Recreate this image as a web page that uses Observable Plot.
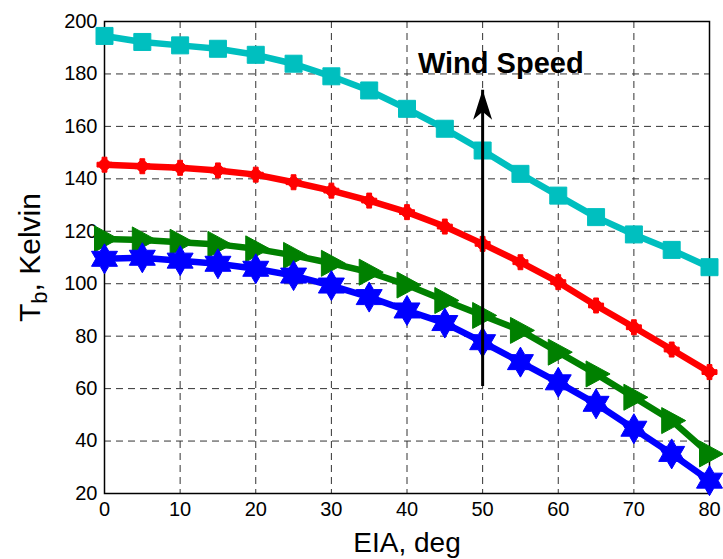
<!DOCTYPE html>
<html><head><meta charset="utf-8">
<script src="https://cdn.jsdelivr.net/npm/d3@7"></script>
<script src="https://cdn.jsdelivr.net/npm/@observablehq/plot@0.6"></script>
<style>
body{margin:0;background:#fff}
#chart svg{font-family:"Liberation Sans",Arial,Helvetica,sans-serif;background:#fff}
</style>
</head><body><div id="chart"></div>
<script>
// ---- data ----
const eia = [0,5,10,15,20,25,30,35,40,45,50,55,60,65,70,75,80];
const tbCyan  = [194.5,192.2,190.9,189.6,187.3,183.9,179.1,173.7,166.7,159.1,150.8,141.9,133.6,125.4,118.8,112.9,106.3];
const tbRed   = [145.4,144.8,144.2,143.2,141.6,138.7,135.5,131.7,127.3,121.8,115.2,108.2,100.6,91.7,83.4,74.9,66.3];
const tbGreen = [117.1,116.7,115.8,115.0,113.3,110.8,107.8,104.4,99.5,93.6,87.9,82.2,73.9,65.6,56.7,47.8,35.1];
const tbBlue  = [109.5,109.9,108.8,107.6,105.7,103.1,99.3,94.9,89.8,85.0,77.7,70.1,62.4,54.2,44.7,35.1,24.9];
const xTicks = [0,10,20,30,40,50,60,70,80];
const yTicks = [20,40,60,80,100,120,140,160,180,200];
const arrowX = [50];
const arrowFrom = [61];
const arrowTo = [174];
const annotation = ["Wind Speed"];
const annotationX = [52.4];
const annotationY = [184];
const xLabel = "EIA, deg";
const yLabel = "T_b, Kelvin";

// ---- marker symbols ----
const squareSym = {draw(c){const h=8.5;c.moveTo(-h,-h);c.lineTo(h,-h);c.lineTo(h,h);c.lineTo(-h,h);c.closePath();}};
const plusDotSym = {draw(c){
  c.moveTo(5.5,0);c.arc(0,0,5.5,0,2*Math.PI);c.closePath();
  const a=7.5,w=2.4;
  c.moveTo(-w,-a);c.lineTo(w,-a);c.lineTo(w,-w);c.lineTo(a,-w);c.lineTo(a,w);c.lineTo(w,w);c.lineTo(w,a);c.lineTo(-w,a);c.lineTo(-w,w);c.lineTo(-a,w);c.lineTo(-a,-w);c.lineTo(-w,-w);c.closePath();
}};
const triRightSym = {draw(c){c.moveTo(-10,-13);c.lineTo(14,0);c.lineTo(-10,13);c.closePath();}};
const hexagramSym = {draw(c){
  const R=15,r=R/Math.sqrt(3);
  for(let i=0;i<12;i++){const ang=-Math.PI/2+i*Math.PI/6;const rr=i%2?r:R;
    const x=rr*Math.cos(ang),y=rr*Math.sin(ang); i?c.lineTo(x,y):c.moveTo(x,y);}
  c.closePath();
}};
const stealthSym = {draw(c){c.moveTo(0,0);c.lineTo(9.5,30);c.lineTo(0,22);c.lineTo(-9.5,30);c.closePath();}};

const series = [
  {values: tbCyan,  color:"#00BFBF", symbol: squareSym},
  {values: tbRed,   color:"#FF0000", symbol: plusDotSym},
  {values: tbGreen, color:"#008000", symbol: triRightSym},
  {values: tbBlue,  color:"#0000FF", symbol: hexagramSym}
];
const tables = series.map(s => eia.map((x,i)=>({x, y:s.values[i]})));
const arrowData = arrowX.map((x,i)=>({x, y1:arrowFrom[i], y2:arrowTo[i]}));
const textData = annotation.map((t,i)=>({t, x:annotationX[i], y:annotationY[i]}));

const font = '"Liberation Sans",Arial,Helvetica,sans-serif';
const marks = [
  Plot.gridX(xTicks, {stroke:"#333", strokeOpacity:1, strokeWidth:1, strokeDasharray:"7,5"}),
  Plot.gridY(yTicks, {stroke:"#333", strokeOpacity:1, strokeWidth:1, strokeDasharray:"7,5"}),
  Plot.frame({stroke:"#000", strokeWidth:1.5}),
  Plot.axisX(xTicks, {tickSize:0, tickPadding:8, fontSize:20, label:null, tickFormat:d=>String(d)}),
  Plot.axisY(yTicks, {tickSize:0, tickPadding:7, fontSize:20, label:null, tickFormat:d=>String(d)}),
  Plot.text([xLabel], {text:d=>d, frameAnchor:"bottom", textAnchor:"middle", lineAnchor:"middle", dy:50, fontSize:28, fill:"#000"}),
  Plot.text([yLabel], {text:d=>d, frameAnchor:"left", textAnchor:"middle", lineAnchor:"middle", dx:-74, rotate:-90, fontSize:30, fill:"#000", className:"ylab"}),
];
for (let k=0;k<series.length;k++){
  const s=series[k];
  marks.push(Plot.line(tables[k], {x:"x", y:"y", stroke:s.color, strokeWidth:6.5, strokeLinejoin:"round"}));
}
for (let k=0;k<series.length;k++){
  const s=series[k];
  marks.push(Plot.dot(tables[k], {x:"x", y:"y", symbol:s.symbol, fill:s.color, stroke:s.color, strokeWidth:1, r:8}));
}
marks.push(Plot.link(arrowData, {x1:"x", x2:"x", y1:"y1", y2:"y2", stroke:"#000", strokeWidth:3}));
marks.push(Plot.dot(arrowData, {x:"x", y:"y2", symbol:stealthSym, fill:"#000", stroke:"none", r:8}));
marks.push(Plot.text(textData, {x:"x", y:"y", text:"t", fontSize:29, fontWeight:"bold", fill:"#000", textAnchor:"middle"}));

const chart = Plot.plot({
  width:723, height:559,
  marginLeft:104, marginRight:14, marginTop:21, marginBottom:66,
  style:{fontFamily:font, fontSize:"20px", color:"#000", background:"#fff", overflow:"visible"},
  x:{domain:[0,80]},
  y:{domain:[20,200]},
  marks
});
document.getElementById("chart").appendChild(chart);

// subscript in y label
d3.select(chart).selectAll(".ylab text").each(function(){
  const t=d3.select(this);
  const txt=t.text();
  const m=txt.match(/^(.)_(.)(.*)$/);
  if(!m) return;
  t.text(null);
  t.append("tspan").text(m[1]);
  t.append("tspan").attr("baseline-shift","-30%").attr("font-size","22px").text(m[2]);
  t.append("tspan").text(m[3]);
});
</script>
</body></html>
